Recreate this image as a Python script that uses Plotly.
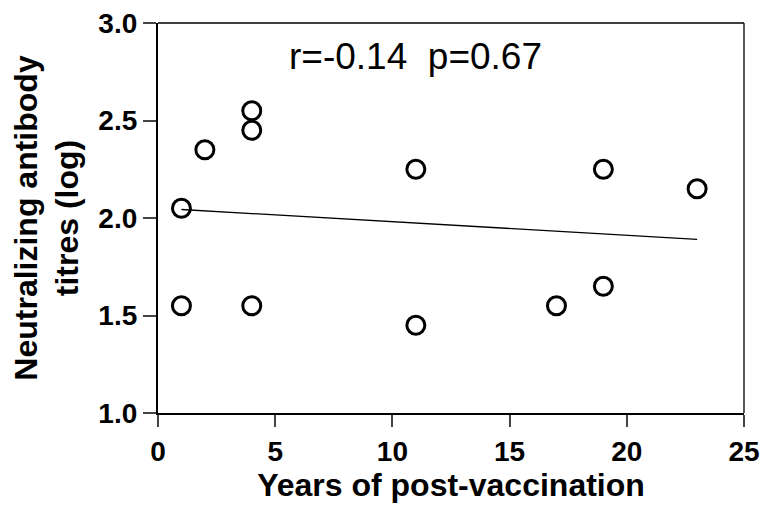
import numpy as np
import plotly.graph_objects as go

years = [1, 1, 2, 4, 4, 4, 11, 11, 17, 19, 19, 23]
titres = [2.05, 1.55, 2.35, 2.55, 2.45, 1.55, 2.25, 1.45, 1.55, 2.25, 1.65, 2.15]
x_ticks = [0, 5, 10, 15, 20, 25]
y_ticks = [1.0, 1.5, 2.0, 2.5, 3.0]
stat_text = "r=-0.14  p=0.67"

slope, intercept = np.polyfit(years, titres, 1)
fit_x = [min(years), max(years)]
fit_y = [slope * v + intercept for v in fit_x]

FONT = "Arial, Liberation Sans, sans-serif"

fig = go.Figure()
fig.add_trace(go.Scatter(x=fit_x, y=fit_y, mode="lines",
                         line=dict(color="black", width=1.3), showlegend=False))
fig.add_trace(go.Scatter(x=years, y=titres, mode="markers",
                         marker=dict(symbol="circle-open", size=18, color="black",
                                     line=dict(width=3, color="black")),
                         showlegend=False, cliponaxis=False))

fig.add_annotation(x=0.4386, y=0.913, xref="paper", yref="paper", text=stat_text,
                   xanchor="center", yanchor="middle",
                   showarrow=False, font=dict(family=FONT, size=37, color="black"))

# top and right thin frame lines
fig.add_shape(type="line", xref="paper", yref="paper", x0=0, x1=1, y0=1, y1=1,
              line=dict(color="black", width=1.3))
fig.add_shape(type="line", xref="paper", yref="paper", x0=1, x1=1, y0=0, y1=1,
              line=dict(color="black", width=1.3))

fig.update_layout(
    width=765, height=512,
    margin=dict(l=158, r=21, t=23, b=99),
    plot_bgcolor="white", paper_bgcolor="white",
    font=dict(family=FONT, color="black"),
    xaxis=dict(range=[0, 25], tickvals=x_ticks, ticks="outside", ticklen=12,
               tickwidth=2, showline=True, linewidth=2.2, linecolor="black",
               showgrid=False, zeroline=False, automargin=False,
               ticklabeloverflow="allow",
               tickfont=dict(family=FONT, size=28, color="black", weight="bold"),
               title=dict(text="<b>Years of post-vaccination</b>",
                          font=dict(family=FONT, size=32, color="black"), standoff=8)),
    yaxis=dict(range=[1.0, 3.0], tickvals=y_ticks, tickformat=".1f", ticks="outside",
               ticklen=13, tickwidth=2, showline=True, linewidth=2.2, linecolor="black",
               showgrid=False, zeroline=False, automargin=False,
               ticklabeloverflow="allow",
               tickfont=dict(family=FONT, size=28, color="black", weight="bold"),
               title=dict(text="<b>Neutralizing antibody<br>titres (log)</b>",
                          font=dict(family=FONT, size=32, color="black"), standoff=10)),
)

fig.write_html("out.html")
